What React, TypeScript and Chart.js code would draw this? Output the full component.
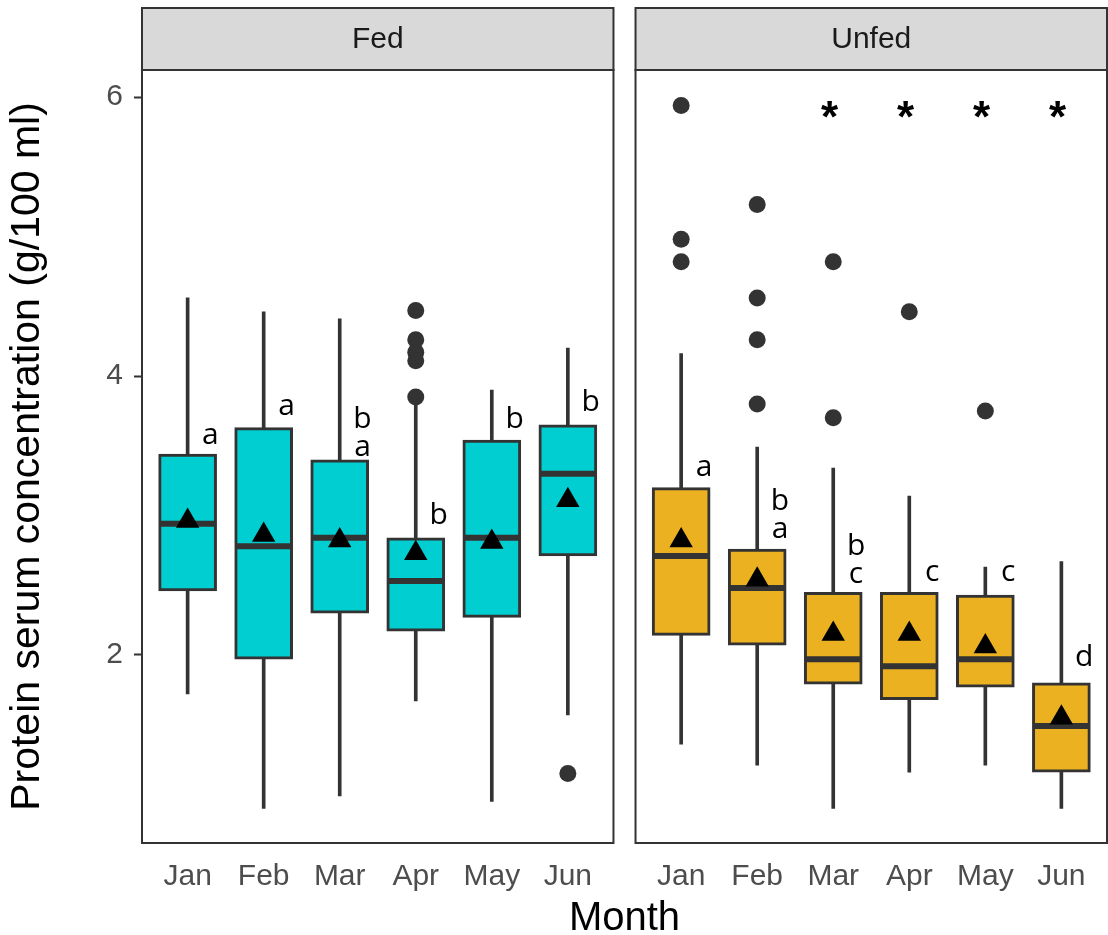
import React, { useEffect, useRef } from 'react';
import { Chart, registerables } from 'chart.js';

Chart.register(...registerables);

// ---------------- data ----------------
const MONTHS = ['Jan', 'Feb', 'Mar', 'Apr', 'May', 'Jun'];
const GROUPS = ['Fed', 'Unfed'];
const Y_TICKS = [2, 4, 6];

const FED_WHISKER_LOW = [1.72, 0.9, 0.99, 1.67, 0.95, 1.57];
const FED_Q1 = [2.46, 1.97, 2.3, 2.17, 2.27, 2.71];
const FED_MEDIAN = [2.94, 2.78, 2.84, 2.53, 2.84, 3.3];
const FED_Q3 = [3.44, 3.63, 3.4, 2.84, 3.54, 3.65];
const FED_WHISKER_HIGH = [4.56, 4.46, 4.41, 3.83, 3.9, 4.2];
const FED_MEAN = [2.96, 2.86, 2.82, 2.73, 2.81, 3.11];
const FED_OUTLIERS = [[], [], [], [4.47, 4.26, 4.17, 4.11, 3.85], [], [1.15]];
const FED_LETTERS = ['a', 'a', 'b\na', 'b', 'b', 'b'];
const FED_LETTER_Y = [3.51, 3.72, 3.63, 2.94, 3.63, 3.75];

const UNFED_WHISKER_LOW = [1.36, 1.21, 0.9, 1.16, 1.21, 0.9];
const UNFED_Q1 = [2.14, 2.07, 1.79, 1.68, 1.77, 1.16];
const UNFED_MEDIAN = [2.71, 2.48, 1.97, 1.92, 1.97, 1.49];
const UNFED_Q3 = [3.2, 2.76, 2.45, 2.45, 2.43, 1.8];
const UNFED_WHISKER_HIGH = [4.16, 3.49, 3.34, 3.14, 2.63, 2.67];
const UNFED_MEAN = [2.82, 2.54, 2.15, 2.15, 2.06, 1.55];
const UNFED_OUTLIERS = [[5.94, 4.98, 4.82], [5.23, 4.56, 4.26, 3.8], [4.82, 3.7], [4.46], [3.75], []];
const UNFED_LETTERS = ['a', 'b\na', 'b\nc', 'c', 'c', 'd'];
const UNFED_LETTER_Y = [3.28, 3.04, 2.72, 2.53, 2.53, 1.92];
const UNFED_SIGNIF = ['', '', '*', '*', '*', '*'];
const SIGNIF_Y = 5.91;

// ---------------- layout / style ----------------
const W = 1108;
const H = 935;
const FONT = '"Liberation Sans", Arial, Helvetica, sans-serif';
const LETTER_FONT = '"Open Sans", "Noto Sans", sans-serif';
const FED_COLOR = '#00CED1';
const UNFED_COLOR = '#EBB121';
const DARK = '#333333';
const PANEL_SPAN = 6.2; // 6 categories + 0.6 expansion on each side
const PANEL_GAP = 0.29;
const Y_MIN = 0.652;
const Y_MAX = 6.194;
const STRIP_TOP = 8;
const LETTER_DX = 0.3;
const LETTER_LINE_H = 28;
const SIGNIF_DX = -0.05;

const fedPos = MONTHS.map((_, i) => i + 0.6);
const unfedPos = MONTHS.map((_, i) => PANEL_SPAN + PANEL_GAP + i + 0.6);
const allPos = [...fedPos, ...unfedPos];

const pairs = (pos: number[], lo: number[], hi: number[]) =>
  pos.map((x, i) => ({ x, y: [lo[i], hi[i]] }));
const points = (pos: number[], v: number[]) => pos.map((x, i) => ({ x, y: v[i] }));
const outlierPoints = (pos: number[], o: number[][]) =>
  pos.flatMap((x, i) => o[i].map((y) => ({ x, y })));

const panelPlugin = {
  id: 'facetPanels',
  afterDraw(chart: any) {
    const { ctx, chartArea, scales } = chart;
    const x = scales.x;
    const panels = [
      [0, PANEL_SPAN],
      [PANEL_SPAN + PANEL_GAP, 2 * PANEL_SPAN + PANEL_GAP],
    ];
    ctx.save();
    panels.forEach(([a, b], k) => {
      const l = x.getPixelForValue(a);
      const r = x.getPixelForValue(b);
      ctx.lineWidth = 2;
      ctx.strokeStyle = DARK;
      ctx.strokeRect(l, chartArea.top, r - l, chartArea.bottom - chartArea.top);
      ctx.fillStyle = '#D9D9D9';
      ctx.fillRect(l, STRIP_TOP, r - l, chartArea.top - STRIP_TOP);
      ctx.strokeRect(l, STRIP_TOP, r - l, chartArea.top - STRIP_TOP);
      ctx.fillStyle = '#1A1A1A';
      ctx.font = `30px ${FONT}`;
      ctx.textAlign = 'center';
      ctx.textBaseline = 'middle';
      ctx.fillText(GROUPS[k], (l + r) / 2, (STRIP_TOP + chartArea.top) / 2 + 1);
    });
    ctx.restore();
  },
};

const letterPlugin = {
  id: 'letters',
  afterDatasetsDraw(chart: any) {
    const { ctx, scales } = chart;
    const { x, y } = scales;
    ctx.save();
    ctx.fillStyle = '#000';
    ctx.textAlign = 'center';
    ctx.textBaseline = 'alphabetic';
    ctx.font = `30px ${LETTER_FONT}`;
    const draw = (pos: number[], letters: string[], ys: number[]) => {
      letters.forEach((t, i) => {
        const px = x.getPixelForValue(pos[i] + LETTER_DX);
        const py = y.getPixelForValue(ys[i]);
        t.split('\n').forEach((ln, k) => ctx.fillText(ln, px, py + k * LETTER_LINE_H));
      });
    };
    draw(fedPos, FED_LETTERS, FED_LETTER_Y);
    draw(unfedPos, UNFED_LETTERS, UNFED_LETTER_Y);
    ctx.font = `bold 44px ${FONT}`;
    UNFED_SIGNIF.forEach((s, i) => {
      if (!s) return;
      const m = ctx.measureText(s);
      const px = x.getPixelForValue(unfedPos[i] + SIGNIF_DX);
      const py = y.getPixelForValue(SIGNIF_Y);
      ctx.fillText(s, px, py + (m.actualBoundingBoxAscent - m.actualBoundingBoxDescent) / 2);
    });
    ctx.restore();
  },
};

export default function App() {
  const ref = useRef<HTMLCanvasElement | null>(null);

  useEffect(() => {
    if (!ref.current) return;
    const chart = new Chart(ref.current, {
      type: 'bar',
      data: {
        datasets: [
          {
            type: 'bar',
            label: 'whiskers',
            data: [
              ...pairs(fedPos, FED_WHISKER_LOW, FED_WHISKER_HIGH),
              ...pairs(unfedPos, UNFED_WHISKER_LOW, UNFED_WHISKER_HIGH),
            ],
            backgroundColor: DARK,
            borderWidth: 0,
            barThickness: 3,
            grouped: false,
            order: 5,
          } as any,
          {
            type: 'bar',
            label: 'Fed',
            data: pairs(fedPos, FED_Q1, FED_Q3),
            backgroundColor: FED_COLOR,
            borderColor: DARK,
            borderWidth: 3,
            borderSkipped: false,
            barThickness: 58,
            grouped: false,
            order: 4,
          } as any,
          {
            type: 'bar',
            label: 'Unfed',
            data: pairs(unfedPos, UNFED_Q1, UNFED_Q3),
            backgroundColor: UNFED_COLOR,
            borderColor: DARK,
            borderWidth: 3,
            borderSkipped: false,
            barThickness: 58,
            grouped: false,
            order: 4,
          } as any,
          {
            type: 'scatter',
            label: 'median',
            data: [...points(fedPos, FED_MEDIAN), ...points(unfedPos, UNFED_MEDIAN)],
            pointStyle: 'line',
            pointRadius: 28,
            borderColor: DARK,
            borderWidth: 6,
            order: 3,
          } as any,
          {
            type: 'scatter',
            label: 'mean',
            data: [...points(fedPos, FED_MEAN), ...points(unfedPos, UNFED_MEAN)],
            pointStyle: 'triangle',
            pointRadius: 13.5,
            backgroundColor: '#000',
            borderWidth: 0,
            order: 2,
          } as any,
          {
            type: 'scatter',
            label: 'outliers',
            data: [...outlierPoints(fedPos, FED_OUTLIERS), ...outlierPoints(unfedPos, UNFED_OUTLIERS)],
            pointStyle: 'circle',
            pointRadius: 8.5,
            backgroundColor: DARK,
            borderWidth: 0,
            order: 1,
          } as any,
        ],
      },
      options: {
        responsive: false,
        maintainAspectRatio: false,
        animation: false,
        events: [],
        layout: { autoPadding: false, padding: { top: 70, right: 1, left: 0, bottom: 0 } },
        plugins: {
          legend: { display: false },
          tooltip: { enabled: false },
        },
        scales: {
          x: {
            type: 'linear',
            min: 0,
            max: 2 * PANEL_SPAN + PANEL_GAP,
            offset: false,
            afterBuildTicks: (scale: any) => {
              scale.ticks = allPos.map((v) => ({ value: v }));
            },
            afterFit: (scale: any) => {
              scale.height = H - 843;
              scale.paddingLeft = 0;
              scale.paddingRight = 0;
            },
            grid: { display: false, drawTicks: false },
            border: { display: false },
            ticks: {
              autoSkip: false,
              maxRotation: 0,
              padding: 16,
              color: '#4D4D4D',
              font: { family: FONT, size: 30 },
              callback: (_v: any, i: number) => MONTHS[i % MONTHS.length],
            },
            title: {
              display: true,
              text: 'Month',
              color: '#000',
              font: { family: FONT, size: 40, lineHeight: 0.8 },
              padding: { top: 0, bottom: 0 },
            },
          },
          y: {
            type: 'linear',
            min: Y_MIN,
            max: Y_MAX,
            afterBuildTicks: (scale: any) => {
              scale.ticks = Y_TICKS.map((v) => ({ value: v }));
            },
            afterFit: (scale: any) => {
              scale.width = 142;
              scale.paddingTop = 0;
              scale.paddingBottom = 0;
            },
            grid: {
              drawOnChartArea: false,
              drawTicks: true,
              tickLength: 8,
              tickWidth: 2,
              tickColor: DARK,
            },
            border: { display: false },
            ticks: {
              padding: 11,
              color: '#4D4D4D',
              font: { family: FONT, size: 30 },
            },
            title: {
              display: true,
              text: 'Protein serum concentration (g/100 ml)',
              color: '#000',
              font: { family: FONT, size: 41, lineHeight: 1 },
              padding: { top: 7.5, bottom: 0 },
            },
          },
        },
      } as any,
      plugins: [letterPlugin, panelPlugin],
    });
    return () => chart.destroy();
  }, []);

  return (
    <div style={{ position: 'absolute', left: 0, top: 0, width: W, height: H, background: '#fff' }}>
      <canvas ref={ref} width={W} height={H} style={{ display: 'block', width: W, height: H }} />
    </div>
  );
}
